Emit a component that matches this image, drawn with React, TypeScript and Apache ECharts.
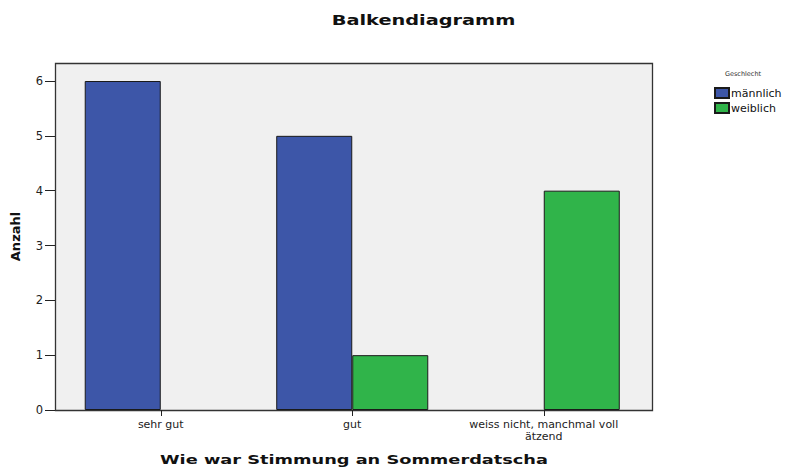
import React, { useEffect, useRef } from "react";
import * as echarts from "echarts";

const categories = ["sehr gut", "gut", "weiss nicht, manchmal voll\nätzend"];
const maleValues = [6, 5, 0];
const femaleValues = [0, 1, 4];
const seriesNames = ["männlich", "weiblich"];
const legendTitle = "Geschlecht";
const chartTitle = "Balkendiagramm";
const xName = "Wie war Stimmung an Sommerdatscha";
const yName = "Anzahl";

const FONT = "DejaVu Sans";

const barData = (vals: number[]) => vals.map((v) => (v === 0 ? null : v));

export default function App() {
  const ref = useRef<HTMLDivElement>(null);
  useEffect(() => {
    if (!ref.current) return;
    const chart = echarts.init(ref.current, undefined, { renderer: "svg" });
    chart.setOption({
      animation: false,
      backgroundColor: "#ffffff",
      legend: {
        orient: "vertical",
        left: 714,
        top: 87,
        padding: 0,
        itemWidth: 14,
        itemHeight: 10,
        itemGap: 3,
        icon: "rect",
        data: seriesNames,
        textStyle: { fontFamily: FONT, fontSize: 11, color: "#111", padding: [0, 0, 0, -3] },
      },
      graphic: [
        {
          type: "rect",
          z: 0,
          shape: { x: 55.5, y: 63.5, width: 597, height: 347 },
          style: { fill: "#f0f0f0", stroke: "#333", lineWidth: 1.3 },
        },
        {
          type: "text",
          x: 743,
          y: 74,
          style: {
            text: legendTitle,
            fontFamily: FONT,
            fontSize: 6.5,
            fill: "#333",
            align: "center",
            verticalAlign: "middle",
          },
        },
        {
          type: "text",
          x: 423.5,
          y: 20.5,
          scaleX: 1.38,
          style: {
            text: chartTitle,
            fontFamily: FONT,
            fontWeight: "bold",
            fontSize: 14,
            fill: "#111",
            align: "center",
            verticalAlign: "middle",
          },
        },
        {
          type: "text",
          x: 354,
          y: 459.5,
          scaleX: 1.42,
          style: {
            text: xName,
            fontFamily: FONT,
            fontWeight: "bold",
            fontSize: 12.5,
            fill: "#111",
            align: "center",
            verticalAlign: "middle",
          },
        },
      ],
      grid: { left: 65, right: 153.5, top: 81, bottom: 58, containLabel: false, outerBoundsMode: "none" },
      xAxis: {
        type: "category",
        data: categories,
        axisLine: { show: false },
        axisTick: { show: true, alignWithLabel: true, length: 6, lineStyle: { color: "#222" } },
        axisLabel: {
          fontFamily: FONT,
          fontSize: 11,
          color: "#222",
          margin: 8,
          lineHeight: 12,
          interval: 0,
        },
        z: 5,
      },
      yAxis: {
        type: "value",
        min: 0,
        max: 6,
        interval: 1,
        offset: 10,
        name: yName,
        nameLocation: "middle",
        nameGap: 33,
        nameRotate: 90,
        nameTextStyle: {
          fontFamily: FONT,
          fontWeight: "bold",
          fontSize: 13,
          color: "#111",
          padding: [0, 0, 0, 18],
        },
        axisLine: { show: false },
        axisTick: { show: true, length: 10, lineStyle: { color: "#222" } },
        axisLabel: { fontFamily: FONT, fontSize: 11.5, color: "#222", margin: 12 },
        splitLine: { show: false },
      },
      series: [
        {
          name: seriesNames[0],
          type: "bar",
          data: barData(maleValues),
          barGap: "0%",
          barCategoryGap: "20.6%",
          z: 2,
          itemStyle: { color: "#3d56a8", borderColor: "#1a1a1a", borderWidth: 1 },
        },
        {
          name: seriesNames[1],
          type: "bar",
          data: barData(femaleValues),
          barGap: "0%",
          barCategoryGap: "20.6%",
          z: 2,
          itemStyle: { color: "#30b44a", borderColor: "#1a1a1a", borderWidth: 1 },
        },
      ],
    });
    return () => chart.dispose();
  }, []);
  return <div ref={ref} style={{ width: 793, height: 468, position: "absolute", left: 0, top: 0 }} />;
}
